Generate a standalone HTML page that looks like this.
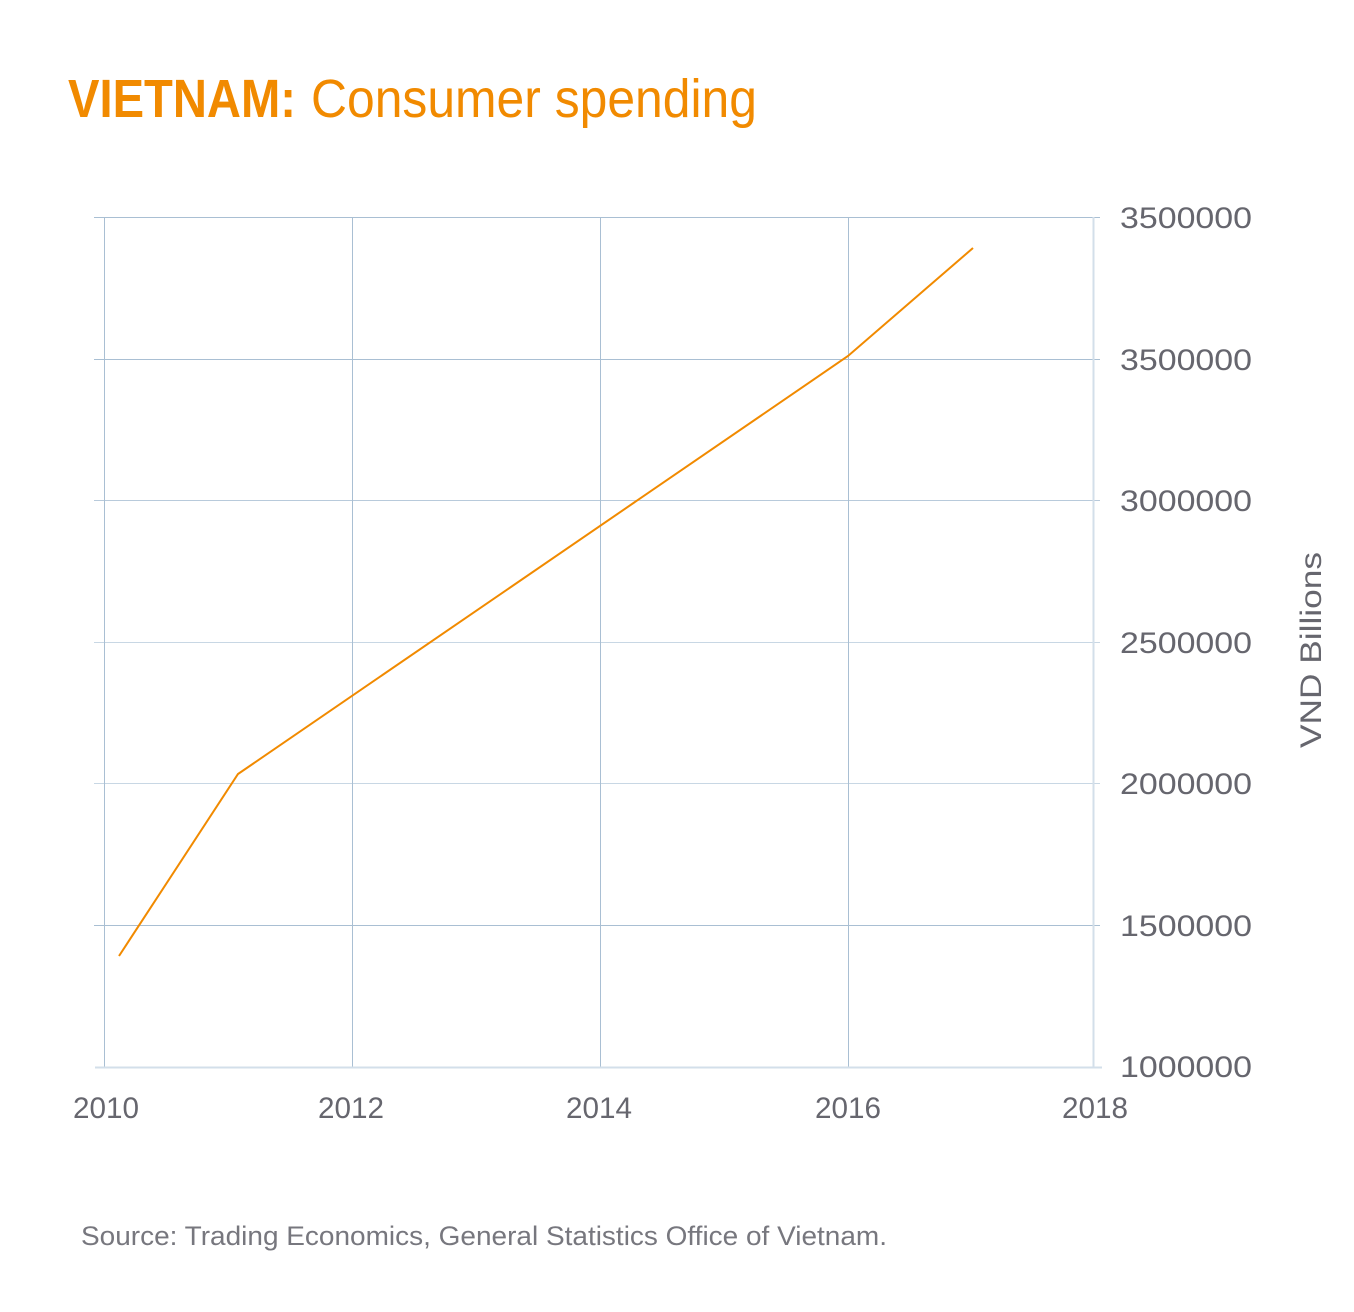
<!DOCTYPE html>
<html><head><meta charset="utf-8"><style>html,body{margin:0;padding:0;background:#fff}svg{display:block}</style></head>
<body>
<svg width="1354" height="1312" viewBox="0 0 1354 1312" xmlns="http://www.w3.org/2000/svg" font-family="'Liberation Sans', 'DejaVu Sans', sans-serif">
<text x="68" y="117" font-size="54" fill="#f18a00"><tspan font-weight="bold" textLength="228" lengthAdjust="spacingAndGlyphs">VIETNAM:</tspan><tspan x="311" textLength="446" lengthAdjust="spacingAndGlyphs">Consumer spending</tspan></text>
<g stroke="#a9bfd3" stroke-width="1">
<line x1="94" y1="217.5" x2="1100" y2="217.5"/>
<line x1="94" y1="359.5" x2="1100" y2="359.5"/>
<line x1="94" y1="500.5" x2="1100" y2="500.5" stroke="#b8cadb"/>
<line x1="94" y1="642.5" x2="1100" y2="642.5" stroke="#c8d7e4"/>
<line x1="94" y1="783.5" x2="1100" y2="783.5" stroke="#c8d7e4"/>
<line x1="94" y1="925.5" x2="1100" y2="925.5"/>
<line x1="104.5" y1="217" x2="104.5" y2="1067"/>
<line x1="352.5" y1="217" x2="352.5" y2="1067"/>
<line x1="600.5" y1="217" x2="600.5" y2="1067"/>
<line x1="848.5" y1="217" x2="848.5" y2="1067"/>
<line x1="1093.5" y1="217" x2="1093.5" y2="1067" stroke="#d3dfea" stroke-width="2"/>
<line x1="95" y1="1067.5" x2="1102" y2="1067.5" stroke="#d3dfea" stroke-width="2"/>
</g>
<polyline points="119,956 238,774 848,356 973,248" fill="none" stroke="#f18a00" stroke-width="2"/>
<g font-size="30" fill="#66666e">
<text x="1120" y="228" textLength="132" lengthAdjust="spacingAndGlyphs">3500000</text>
<text x="1120" y="370" textLength="132" lengthAdjust="spacingAndGlyphs">3500000</text>
<text x="1120" y="511" textLength="132" lengthAdjust="spacingAndGlyphs">3000000</text>
<text x="1120" y="653" textLength="132" lengthAdjust="spacingAndGlyphs">2500000</text>
<text x="1120" y="794" textLength="132" lengthAdjust="spacingAndGlyphs">2000000</text>
<text x="1120" y="936" textLength="132" lengthAdjust="spacingAndGlyphs">1500000</text>
<text x="1120" y="1077" textLength="132" lengthAdjust="spacingAndGlyphs">1000000</text>
<text x="106" y="1118" text-anchor="middle" textLength="66" lengthAdjust="spacingAndGlyphs">2010</text>
<text x="351" y="1118" text-anchor="middle" textLength="66" lengthAdjust="spacingAndGlyphs">2012</text>
<text x="599" y="1118" text-anchor="middle" textLength="66" lengthAdjust="spacingAndGlyphs">2014</text>
<text x="848" y="1118" text-anchor="middle" textLength="66" lengthAdjust="spacingAndGlyphs">2016</text>
<text x="1095" y="1118" text-anchor="middle" textLength="66" lengthAdjust="spacingAndGlyphs">2018</text>
<text transform="translate(1321,748) rotate(-90)" textLength="196" lengthAdjust="spacingAndGlyphs">VND Billions</text>
</g>
<text x="81" y="1245" font-size="27" fill="#77777e" textLength="806" lengthAdjust="spacingAndGlyphs">Source: Trading Economics, General Statistics Office of Vietnam.</text>
</svg>
</body></html>
